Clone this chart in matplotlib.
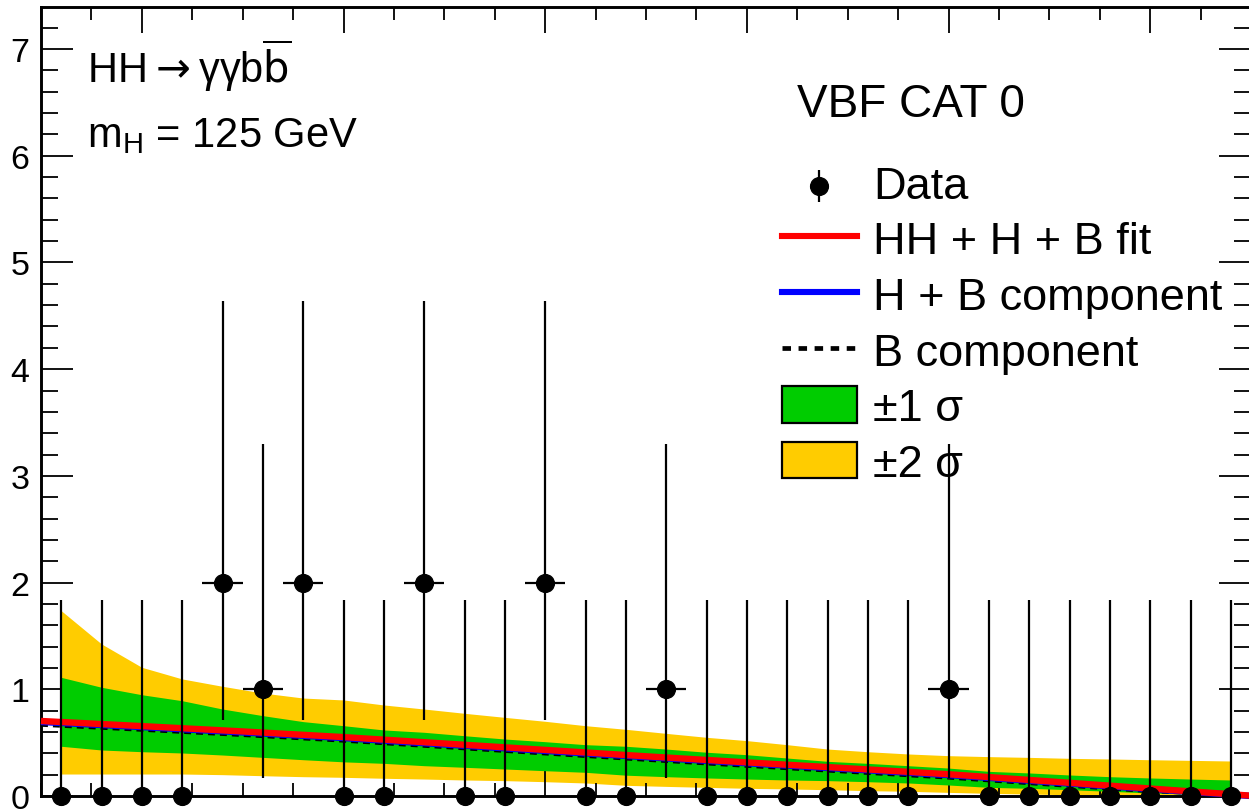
import numpy as np
import matplotlib
matplotlib.use("Agg")
import matplotlib.pyplot as plt
from matplotlib.lines import Line2D
from matplotlib.patches import Patch
from matplotlib.legend_handler import HandlerErrorbar
from matplotlib.container import ErrorbarContainer
from matplotlib.ticker import MultipleLocator

plt.rcParams['font.family'] = ['Liberation Sans', 'DejaVu Sans']
plt.rcParams['mathtext.fontset'] = 'custom'
plt.rcParams['mathtext.rm'] = 'Liberation Sans'
plt.rcParams['mathtext.it'] = 'Liberation Sans:italic'
plt.rcParams['mathtext.bf'] = 'Liberation Sans:bold'
plt.rcParams['mathtext.sf'] = 'Liberation Sans'

# ---------------- data ----------------
x_min, x_max, n_bins = 105.0, 165.0, 30

counts = [0, 0, 0, 0, 2, 1, 2, 0, 0, 2, 0, 0, 2, 0, 0,
          1, 0, 0, 0, 0, 0, 0, 1, 0, 0, 0, 0, 0, 0, 0]
err_down = [0, 0, 0, 0, 1.29, 0.83, 1.29, 0, 0, 1.29, 0, 0, 1.29, 0, 0,
            0.83, 0, 0, 0, 0, 0, 0, 0.83, 0, 0, 0, 0, 0, 0, 0]
err_up = [1.84, 1.84, 1.84, 1.84, 2.64, 2.30, 2.64, 1.84, 1.84, 2.64, 1.84, 1.84, 2.64, 1.84, 1.84,
          2.30, 1.84, 1.84, 1.84, 1.84, 1.84, 1.84, 2.30, 1.84, 1.84, 1.84, 1.84, 1.84, 1.84, 1.84]

band2_hi = [1.737, 1.425, 1.206, 1.097, 1.028, 0.965, 0.918, 0.900, 0.853, 0.815,
            0.775, 0.737, 0.700, 0.659, 0.625, 0.587, 0.550, 0.519, 0.481, 0.440,
            0.415, 0.394, 0.378, 0.369, 0.362, 0.353, 0.347, 0.340, 0.334, 0.328]
band1_hi = [1.112, 1.019, 0.949, 0.893, 0.815, 0.753, 0.697, 0.659, 0.619, 0.597,
            0.565, 0.534, 0.509, 0.481, 0.466, 0.440, 0.410, 0.387, 0.356, 0.325,
            0.306, 0.284, 0.262, 0.231, 0.216, 0.197, 0.181, 0.169, 0.159, 0.150]
band1_lo = [0.466, 0.431, 0.415, 0.403, 0.384, 0.362, 0.340, 0.320, 0.306, 0.284,
            0.269, 0.253, 0.237, 0.222, 0.195, 0.181, 0.169, 0.159, 0.150, 0.144,
            0.134, 0.122, 0.103, 0.081, 0.072, 0.059, 0.044, 0.028, 0.019, 0.003]
band2_lo = [0.206, 0.206, 0.206, 0.206, 0.200, 0.190, 0.181, 0.175, 0.166, 0.159,
            0.150, 0.144, 0.134, 0.122, 0.100, 0.090, 0.081, 0.072, 0.066, 0.059,
            0.050, 0.044, 0.034, 0.025, 0.018, 0.012, 0.006, 0.000, 0.000, 0.000]

curve_x = [105, 110, 115, 120, 125, 130, 135, 140, 145, 150, 155, 160, 165]
fit_total = [0.703, 0.655, 0.605, 0.552, 0.492, 0.432, 0.372, 0.315, 0.260, 0.204, 0.137, 0.070, 0.003]
fit_hb = [0.694, 0.646, 0.596, 0.543, 0.483, 0.423, 0.364, 0.307, 0.252, 0.196, 0.130, 0.064, 0.000]
fit_b = [0.662, 0.615, 0.566, 0.513, 0.453, 0.393, 0.334, 0.277, 0.222, 0.167, 0.102, 0.040, 0.000]

y_ticks = [0, 1, 2, 3, 4, 5, 6, 7]
y_tick_labels = ['0', '1', '2', '3', '4', '5', '6', '7']

# ---------------- figure ----------------
W, H = 1249, 812
fig = plt.figure(figsize=(W / 100, H / 100), dpi=100)
ax = fig.add_axes([41 / W, 15 / H, 1210 / W, 789 / H])

edges = np.linspace(x_min, x_max, n_bins + 1)
centers = 0.5 * (edges[:-1] + edges[1:])
half_w = 0.5 * (edges[1] - edges[0])
counts_a = np.array(counts, dtype=float)

yellow = '#FFCC00'
green = '#00CC00'

ax.fill_between(centers, band2_lo, band2_hi, color=yellow, lw=0, zorder=1)
ax.fill_between(centers, band1_lo, band1_hi, color=green, lw=0, zorder=2)

ax.plot(curve_x, fit_b, color='black', lw=2.0, ls=(0, (2.5, 1.8)), zorder=3, clip_on=False)
ax.plot(curve_x, fit_hb, color='blue', lw=4.6, zorder=3.5, clip_on=False, solid_capstyle='butt')
ax.plot(curve_x, fit_total, color='red', lw=4.6, zorder=4, clip_on=False, solid_capstyle='butt')

data_eb = ax.errorbar(centers, counts_a, yerr=[err_down, err_up], fmt='o', color='black',
                      ms=12.8, elinewidth=1.6, capsize=0, zorder=6, clip_on=False)
for art in data_eb.lines[2]:
    art.set_clip_on(False)
nz = counts_a > 0
xerr_eb = ax.errorbar(centers[nz], counts_a[nz], xerr=half_w, fmt='none', ecolor='black',
                      elinewidth=1.6, capsize=0, zorder=6)

ax.set_xlim(x_min, x_max)
ax.set_ylim(0, 7.394)

ax.set_yticks(y_ticks)
ax.set_yticklabels(y_tick_labels)
ax.yaxis.set_minor_locator(MultipleLocator(0.2))
ax.xaxis.set_major_locator(MultipleLocator(10))
ax.xaxis.set_minor_locator(MultipleLocator(2.5))
ax.tick_params(axis='both', which='both', direction='in', top=True, right=True, width=1.3, color='black')
ax.tick_params(axis='y', which='major', length=23, labelsize=24.5, pad=8.5)
ax.tick_params(axis='y', which='minor', length=12)
ax.tick_params(axis='x', which='major', length=19, labelbottom=False)
ax.tick_params(axis='x', which='minor', length=9.5)
for sp in ax.spines.values():
    sp.set_linewidth(2.1)

# ---------------- texts ----------------
fig.text(87 / W, 1 - 83 / H, "HH$\\rightarrow$\u03b3\u03b3b$\\overline{\\mathrm{b}}$", fontsize=30,
         va='baseline', ha='left', math_fontfamily='dejavusans')
fig.text(87 / W, 1 - 147 / H, "m$_{\\mathrm{H}}$ = 125 GeV", fontsize=30, va='baseline', ha='left')
fig.text(797 / W, 1 - 117 / H, "VBF CAT 0", fontsize=33, va='baseline', ha='left')


# ---------------- legend ----------------
class LoweredErrorbarHandler(HandlerErrorbar):
    def create_artists(self, legend, orig_handle, xdescent, ydescent, width, height, fontsize, trans):
        return super().create_artists(legend, orig_handle, xdescent, ydescent + 7, width, height,
                                      fontsize, trans)


h_data = ax.errorbar([], [], yerr=[], fmt='o', color='black', ms=12.8, elinewidth=1.6, capsize=0)
h_fit = Line2D([], [], color='red', lw=4.4)
h_hb = Line2D([], [], color='blue', lw=4.4)
h_b = Line2D([], [], color='black', lw=3.4, ls=(0, (1.8, 1.6)))
h_1s = Patch(facecolor=green, edgecolor='black', lw=1.6)
h_2s = Patch(facecolor=yellow, edgecolor='black', lw=1.6)

leg = ax.legend([h_data, h_fit, h_hb, h_b, h_1s, h_2s],
                ['Data', 'HH + H + B fit', 'H + B component', 'B component', '\u00b11 \u03c3', '\u00b12 \u03c3'],
                loc='upper left', bbox_to_anchor=(782 / W, 1 - 165 / H), bbox_transform=fig.transFigure,
                frameon=False, fontsize=32.5, handlelength=1.66, handleheight=0.87,
                handletextpad=0.36, labelspacing=0.28, borderpad=0, borderaxespad=0, numpoints=1,
                handler_map={ErrorbarContainer: LoweredErrorbarHandler(yerr_size=0.36)})
leg.set_zorder(10)

fig.savefig('out.png', dpi=100)
